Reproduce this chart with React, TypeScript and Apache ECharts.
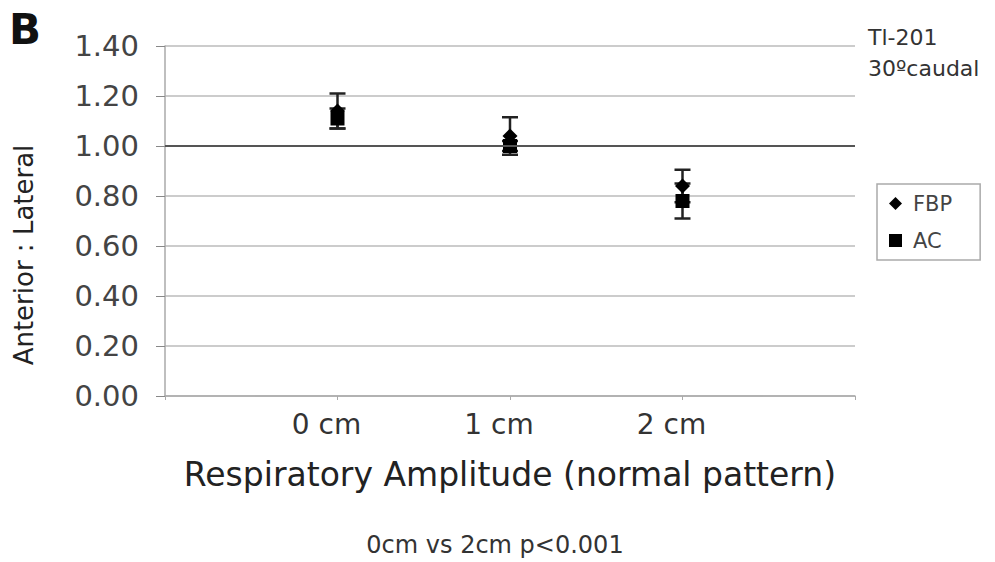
import React, { useEffect, useRef } from "react";
import * as echarts from "echarts";

const categories = ["0 cm", "1 cm", "2 cm"];
const axisCategories = ["", ...categories, " "];
const fbpValues = [1.14, 1.04, 0.84];
const fbpErrors = [0.07, 0.075, 0.065];
const acValues = [1.11, 1.0, 0.78];
const acErrors = [0.04, 0.02, 0.07];
const yMin = 0;
const yMax = 1.4;
const yInterval = 0.2;
const referenceLine = 1.0;

const FONT = "DejaVu Sans";

export default function App() {
  const ref = useRef<HTMLDivElement>(null);
  useEffect(() => {
    if (!ref.current) return;
    const chart = echarts.init(ref.current, null, { renderer: "svg" });

    const errData = [
      ...categories.map((c, i) => [c, fbpValues[i] - fbpErrors[i], fbpValues[i] + fbpErrors[i]]),
      ...categories.map((c, i) => [c, acValues[i] - acErrors[i], acValues[i] + acErrors[i]]),
    ];

    const option: any = {
      animation: false,
      backgroundColor: "#fff",
      textStyle: { fontFamily: FONT },
      grid: { left: 165, right: 140, top: 46, bottom: 166, containLabel: false },
      title: {
        text: "0cm vs 2cm p<0.001",
        left: 495,
        textAlign: "center",
        top: 533,
        padding: 0,
        textStyle: { fontFamily: FONT, fontSize: 24, fontWeight: "normal", color: "#333" },
      },
      legend: {
        orient: "vertical",
        left: 877,
        top: 184,
        padding: [9, 28, 9, 12],
        itemWidth: 13,
        itemHeight: 13,
        itemGap: 16,
        borderColor: "#aaa",
        borderWidth: 1.5,
        data: [
          { name: "FBP", icon: "diamond" },
          { name: "AC", icon: "rect" },
        ],
        textStyle: { fontFamily: FONT, fontSize: 21, color: "#444", padding: [0, 0, 0, 6] },
      },
      xAxis: {
        type: "category",
        data: axisCategories,
        boundaryGap: false,
        name: "Respiratory Amplitude (normal pattern)",
        nameLocation: "middle",
        nameGap: 62,
        nameTextStyle: { fontFamily: FONT, fontSize: 33, color: "#222" },
        axisLine: { lineStyle: { color: "#aaa", width: 1.5 } },
        axisTick: { show: true, length: 4, alignWithLabel: true, lineStyle: { color: "#aaa" } },
        axisLabel: {
          fontFamily: FONT,
          fontSize: 28,
          color: "#333",
          margin: 14,
          interval: 0,
          padding: [0, 22, 0, 0],
        },
        splitLine: { show: false },
      },
      yAxis: {
        type: "value",
        min: yMin,
        max: yMax,
        interval: yInterval,
        name: "Anterior : Lateral",
        nameLocation: "middle",
        nameGap: 128,
        nameRotate: 90,
        nameTextStyle: { fontFamily: FONT, fontSize: 26, color: "#222", padding: [0, 68, 0, 0] },
        axisLine: { show: true, lineStyle: { color: "#aaa", width: 1.5 } },
        axisTick: { show: true, inside: false, length: 9, lineStyle: { color: "#888" } },
        axisLabel: {
          fontFamily: FONT,
          fontSize: 29,
          color: "#444",
          margin: 26,
          formatter: (v: number) => v.toFixed(2),
        },
        splitLine: { show: true, lineStyle: { color: "#bbb", width: 1.5 } },
      },
      graphic: [
        {
          type: "text",
          left: 9,
          top: 8,
          style: { text: "B", font: `bold 42px ${FONT}`, fill: "#111" },
        },
        {
          type: "text",
          left: 868,
          top: 26,
          style: { text: "Tl-201", font: `22px ${FONT}`, fill: "#333" },
        },
        {
          type: "text",
          left: 868,
          top: 57,
          style: { text: "30ºcaudal", font: `22px ${FONT}`, fill: "#333" },
        },
      ],
      series: [
        {
          type: "custom",
          name: "errors",
          z: 1,
          silent: true,
          encode: { x: 0, y: [1, 2] },
          data: errData,
          renderItem: (params: any, api: any) => {
            const x = api.value(0);
            const lo = api.coord([x, api.value(1)]);
            const hi = api.coord([x, api.value(2)]);
            const half = 8;
            const style = { stroke: "#222", lineWidth: 2.5 };
            return {
              type: "group",
              children: [
                { type: "line", shape: { x1: hi[0], y1: hi[1], x2: lo[0], y2: lo[1] }, style },
                { type: "line", shape: { x1: hi[0] - half, y1: hi[1], x2: hi[0] + half, y2: hi[1] }, style },
                { type: "line", shape: { x1: lo[0] - half, y1: lo[1], x2: lo[0] + half, y2: lo[1] }, style },
              ],
            };
          },
        },
        {
          type: "scatter",
          name: "FBP",
          z: 3,
          symbol: "diamond",
          symbolSize: [15, 15],
          itemStyle: { color: "#000", opacity: 1 },
          data: categories.map((c, i) => [c, fbpValues[i]]),
          markLine: {
            silent: true,
            symbol: "none",
            label: { show: false },
            lineStyle: { color: "#555", width: 2, type: "solid" },
            data: [{ yAxis: referenceLine }],
          },
        },
        {
          type: "scatter",
          name: "AC",
          z: 4,
          symbol: "rect",
          symbolSize: 14,
          itemStyle: { color: "#000", opacity: 1 },
          data: categories.map((c, i) => [c, acValues[i]]),
        },
      ],
    };
    chart.setOption(option);
    return () => chart.dispose();
  }, []);
  return (
    <div
      ref={ref}
      style={{ position: "fixed", left: 0, top: 0, width: 995, height: 562, background: "#fff" }}
    />
  );
}
